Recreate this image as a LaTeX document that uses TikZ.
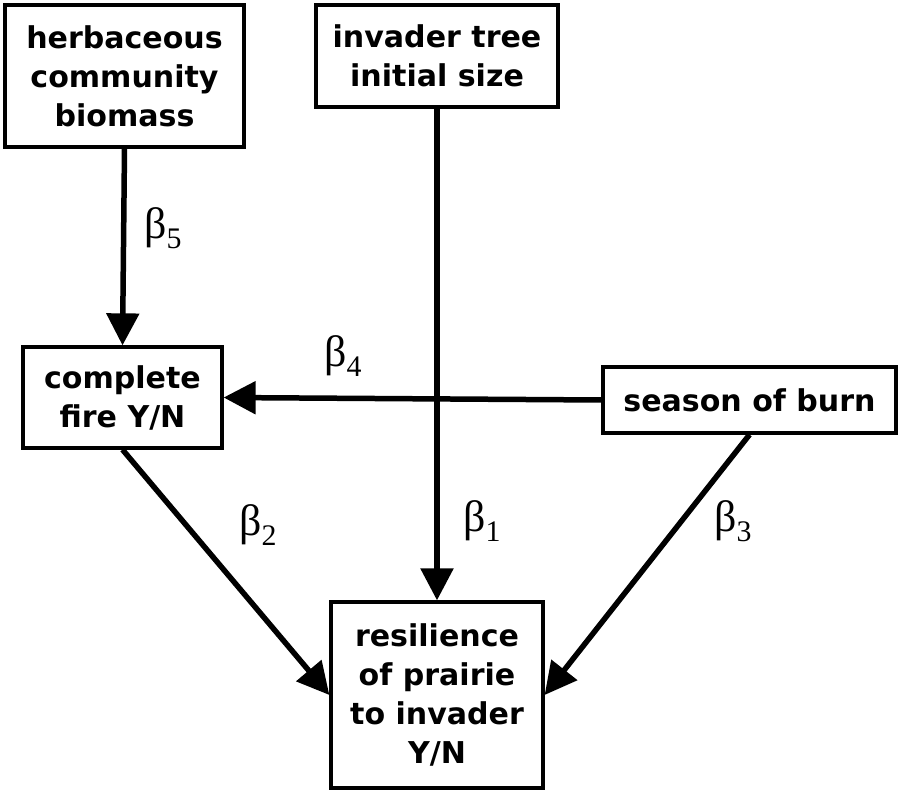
\documentclass[tikz,border=0pt]{standalone}
\usepackage{fontspec}
\setmainfont{DejaVu Sans}
\newfontfamily\betafont{Liberation Serif}
\usetikzlibrary{
  arrows.meta
}
\tikzset{
  factor box/.style={
    draw,
    line width=0.066cm,
    align=center,
    inner sep=0pt,
    font=\fontsize{17.1}{22.2}\selectfont\bfseries
  },
  effect arrow/.style={
    line width=0.11cm,
    -{Triangle[length=0.64cm,width=0.64cm]}
  },
  coef label/.style={
    inner sep=0pt,
    font=\betafont\fontsize{25}{25}\selectfont
  }
}
\newcommand{\coefsub}[1]{β\raisebox{-6pt}{\fontsize{17}{17}\selectfont #1}}

\begin{document}
\begin{tikzpicture}[x=0.02cm,y=-0.02cm]

    \useasboundingbox (0,0) rectangle (904,794);

    % ---------- factors ----------
    \node[factor box, minimum width=4.78cm, minimum height=2.84cm]
      (herb) at (124.5,76) {herbaceous\\community\\biomass};

    \node[factor box, minimum width=4.84cm, minimum height=2.04cm]
      (tree) at (437,56) {invader tree\\initial size};

    \node[factor box, minimum width=3.98cm, minimum height=2.02cm]
      (fire) at (122.5,397.5) {complete\\fire Y/N};

    \node[factor box, minimum width=5.86cm, minimum height=1.32cm]
      (season) at (749.5,400) {season of burn};

    \node[factor box, minimum width=4.24cm, minimum height=3.72cm]
      (res) at (437,695) {resilience\\of prairie\\to invader\\Y/N};

    % ---------- effects ----------
    \draw[effect arrow] (herb.south) -- (fire.north);
    \draw[effect arrow] (tree.south) -- (res.north);
    \draw[effect arrow] (season.west) -- (fire.east);
    \draw[effect arrow] (fire.south) -- (res.west);
    \draw[effect arrow] (season.south) -- (res.east);

    % ---------- coefficients ----------
    \node[coef label] (b5) at (163,228) {\coefsub{5}};
    \node[coef label] (b4) at (343,356) {\coefsub{4}};
    \node[coef label] (b2) at (258,525) {\coefsub{2}};
    \node[coef label] (b1) at (482,521) {\coefsub{1}};
    \node[coef label] (b3) at (733,521) {\coefsub{3}};

\end{tikzpicture}
\end{document}
